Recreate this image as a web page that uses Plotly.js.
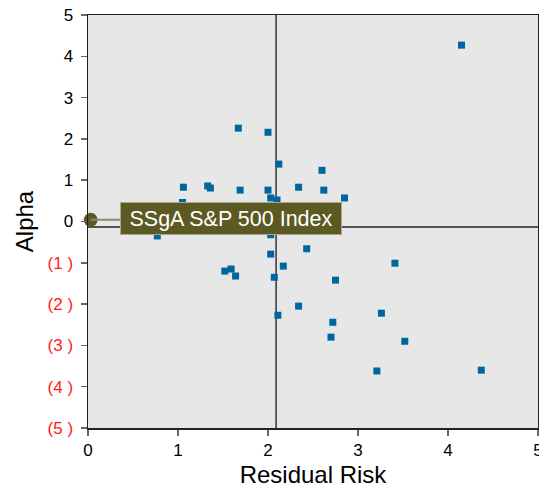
<!DOCTYPE html>
<html>
<head>
<meta charset="utf-8">
<script src="https://cdn.plot.ly/plotly-3.0.1.min.js"></script>
<style>html,body{margin:0;padding:0;background:#fff;}#chart{width:539px;height:491px;}</style>
</head>
<body>
<div id="chart"></div>
<script>
// Fund points: residual risk (x) and alpha (y)
const residualRisk = [4.15, 1.67, 2.00, 2.12, 2.60, 1.06, 1.33, 1.36, 1.69, 2.00, 2.34, 2.62, 2.03, 2.10, 2.85, 1.05, 0.77, 2.03, 2.43, 2.03, 3.41, 1.52, 1.59, 1.64, 2.17, 2.07, 2.75, 2.34, 3.26, 2.11, 2.72, 2.70, 3.52, 3.21, 4.37];
const alpha        = [4.27, 2.26, 2.16, 1.39, 1.24, 0.83, 0.86, 0.81, 0.76, 0.76, 0.83, 0.76, 0.57, 0.52, 0.57, 0.46, -0.35, -0.32, -0.66, -0.79, -1.01, -1.20, -1.15, -1.32, -1.08, -1.35, -1.42, -2.05, -2.22, -2.27, -2.44, -2.80, -2.90, -3.62, -3.60];
// Highlighted index
const indexName = "SSgA S&P 500 Index";
const indexX = [0.03];
const indexY = [0.04];
// Reference lines (averages)
const refX = 2.09;
const refY = -0.135;
// Tick labels
const yTickVals = [5, 4, 3, 2, 1, 0, -1, -2, -3, -4, -5];
const yTickText = ["5", "4", "3", "2", "1", "0", "(1 )", "(2 )", "(3 )", "(4 )", "(5 )"];
const xTickVals = [0, 1, 2, 3, 4, 5];
const xTickText = ["0", "1", "2", "3", "4", "5"];

const red = "#ff1a1a";
const yTickLabels = yTickVals.map((v, i) => v < 0 ? '<span style="color:' + red + '">' + yTickText[i] + '</span>' : yTickText[i]);

const traces = [
  {
    x: residualRisk, y: alpha, type: "scatter", mode: "markers",
    marker: {symbol: "square", size: 7, color: "#00669e"},
    hoverinfo: "x+y", cliponaxis: false
  },
  {
    x: indexX, y: indexY, type: "scatter", mode: "markers",
    marker: {symbol: "circle", size: 14, color: "#5c5a22"},
    cliponaxis: false, name: indexName
  }
];

const layout = {
  width: 539, height: 491,
  margin: {l: 88, r: 1, t: 15, b: 63},
  paper_bgcolor: "#ffffff",
  plot_bgcolor: "#e7e7e7",
  showlegend: false,
  font: {family: "Liberation Sans, Arial, sans-serif", color: "#000", size: 17},
  xaxis: {
    range: [0, 5], tickvals: xTickVals, ticktext: xTickText,
    showgrid: false, zeroline: false,
    showline: true, linecolor: "#222", linewidth: 1.5, mirror: true,
    ticks: "outside", ticklen: 6, tickcolor: "#666", tickwidth: 1.5,
    tickfont: {size: 17, color: "#000"},
    ticklabeloverflow: "allow",
    title: {text: "Residual Risk", font: {size: 24, color: "#000"}, standoff: 7}
  },
  yaxis: {
    range: [-5, 5], tickvals: yTickVals, ticktext: yTickLabels,
    showgrid: false, zeroline: false,
    showline: true, linecolor: "#222", linewidth: 1.5, mirror: true,
    ticks: "outside", ticklen: 6, tickcolor: "#666", tickwidth: 1.5,
    tickfont: {size: 17, color: "#000"},
    ticklabelstandoff: 4,
    ticklabeloverflow: "allow",
    title: {text: "Alpha", font: {size: 24, color: "#000"}, standoff: 7}
  },
  shapes: [
    {type: "line", xref: "x", yref: "y", x0: refX, x1: refX, y0: -5, y1: 5, line: {color: "#333", width: 1.5}, layer: "below"},
    {type: "line", xref: "x", yref: "y", x0: 0, x1: 5, y0: refY, y1: refY, line: {color: "#222", width: 1.5}, layer: "below"}
  ],
  annotations: [
    {
      x: indexX[0], y: indexY[0], xref: "x", yref: "y",
      text: indexName, showarrow: true, arrowhead: 0, arrowwidth: 2, arrowcolor: "#8c8b6b",
      ax: 140, ay: -1, standoff: 0,
      bgcolor: "#5c5a22", bordercolor: "#a9a78c", borderwidth: 1, borderpad: 0,
      width: 220, height: 31,
      font: {size: 21.5, color: "#ffffff", family: "Liberation Sans, Arial, sans-serif"}
    }
  ]
};

Plotly.newPlot("chart", traces, layout, {displayModeBar: false, staticPlot: true});
</script>
</body>
</html>
